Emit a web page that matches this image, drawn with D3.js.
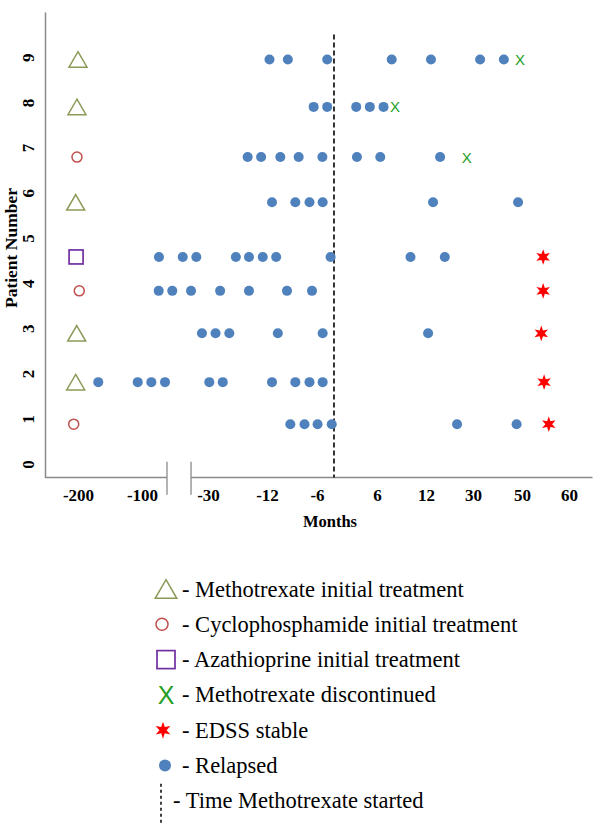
<!DOCTYPE html>
<html>
<head>
<meta charset="utf-8">
<script src="https://cdn.jsdelivr.net/npm/d3@7"></script>
<style>
  body { margin: 0; background: #fff; }
  text { font-family: "Liberation Serif", "Times New Roman", serif; }
</style>
</head>
<body>
<div id="chart"></div>
<script>
// =========================
// DATA
// =========================
const patients = [1, 2, 3, 4, 5, 6, 7, 8, 9];
// row height of each patient as plotted (slightly below the tick)
const patientRow = [0.88, 1.81, 2.89, 3.83, 4.58, 5.79, 6.79, 7.9, 8.95];

const initialTreatment = ["cyclo", "mtx", "mtx", "cyclo", "aza", "mtx", "cyclo", "mtx", "mtx"];
const initialMonth = [-206.7, -203.6, -202, -198, -203, -203.6, -201.6, -201.6, -200];

const relapses = [
    [-9.2, -7.5, -5.8, -0.8, 23.9, 47.8],
    [-168.3, -106.7, -90.1, -75.6, -29.6, -25.5, -11.4, -8.6, -6.9, -4.0],
    [-36.4, -27.7, -23.5, -10.7, -4.0, 12.8],
    [-82.3, -67.9, -48.0, -26.3, -17.5, -9.6, -6.6],
    [-82.0, -56.8, -42.4, -21.5, -17.5, -13.3, -10.9, -1.2, 10.1, 19.2],
    [-11.4, -8.6, -6.9, -4.0, 14.7, 48.4],
    [-17.9, -13.8, -10.4, -8.2, -4.1, 3.2, 6.4, 17.4],
    [-6.4, -2.4, 3.1, 5.0, 6.8],
    [-11.7, -9.5, -2.4, 7.8, 13.9, 32.9, 42.6]
];

const discontinuedPatient = [7, 8, 9];
const discontinuedMonth = [27.6, 8.2, 49.2];

const stablePatient = [1, 2, 3, 4, 5];
const stableMonth = [55.7, 54.7, 54.1, 54.5, 54.5];

const mtxStart = 0;

const xTicks = [-200, -100, -30, -12, -6, 6, 12, 30, 50, 60];
const yTicks = [0, 1, 2, 3, 4, 5, 6, 7, 8, 9];
const xExtent = [-251, 65];
const xBreak = [-73.5, -48];

const legendLabels = [
    "- Methotrexate initial treatment",
    "- Cyclophosphamide initial treatment",
    "- Azathioprine initial treatment",
    "- Methotrexate discontinued",
    "- EDSS stable",
    "- Relapsed",
    "- Time Methotrexate started"
];

// =========================
// STYLE
// =========================
const colMtx = "#8a9a58";
const colCyclo = "#c0504d";
const colAza = "#7030a0";
const colX = "#25a025";
const colStar = "#ff0000";
const colDot = "#4f81bd";
const colAxis = "#8a8a8a";

// =========================
// SVG
// =========================
const svg = d3.select("#chart")
    .append("svg")
    .attr("width", 600)
    .attr("height", 833);

// =========================
// SCALES (uneven, broken month axis)
// =========================
const x = d3.scaleLinear()
    .domain([-200, -100, -30, -12, -6, 0, 6, 12, 30, 50, 60])
    .range([78, 142, 208, 267, 317, 334, 377, 426, 473, 522, 569]);

const y = d3.scaleLinear()
    .domain([-0.3, 10])
    .range([477.5, 12]);

// =========================
// SYMBOLS
// =========================
function starPath(R, r) {
    const p = d3.path();
    for (let k = 0; k < 12; k++) {
        const a = -Math.PI / 2 + k * Math.PI / 6;
        const rad = k % 2 === 0 ? R : r;
        const px = rad * Math.cos(a), py = rad * Math.sin(a);
        if (k === 0) p.moveTo(px, py); else p.lineTo(px, py);
    }
    p.closePath();
    return p.toString();
}

function drawSymbol(g, type, big) {
    const s = big ? 1.2 : 1;
    if (type === "mtx") {
        const w = 18 * s, h = 15.5 * s;
        g.append("path")
            .attr("d", `M0,${-h / 2}L${w / 2},${h / 2}L${-w / 2},${h / 2}Z`)
            .attr("fill", "none").attr("stroke", colMtx).attr("stroke-width", 1.5);
    } else if (type === "cyclo") {
        g.append("circle").attr("r", 5 * s)
            .attr("fill", "none").attr("stroke", colCyclo).attr("stroke-width", 1.5);
    } else if (type === "aza") {
        const a = (big ? 18 : 14);
        g.append("rect").attr("x", -a / 2).attr("y", -a / 2)
            .attr("width", a).attr("height", a)
            .attr("fill", "none").attr("stroke", colAza).attr("stroke-width", 1.7);
    } else if (type === "x") {
        g.append("text").text("X")
            .attr("text-anchor", "middle").attr("dominant-baseline", "central")
            .style("font-family", "'Liberation Sans', Arial, sans-serif")
            .style("font-size", big ? "25px" : "15px")
            .attr("fill", colX);
    } else if (type === "star") {
        g.append("path").attr("d", big ? starPath(8.5, 3.6) : starPath(7.8, 3.4))
            .attr("fill", colStar);
    } else if (type === "dot") {
        g.append("circle").attr("r", big ? 6 : 5).attr("fill", colDot);
    }
}

// =========================
// AXES
// =========================
const yAxis = svg.append("g")
    .attr("transform", `translate(45,0)`)
    .call(d3.axisLeft(y).tickValues(yTicks).tickSize(0).tickSizeOuter(0));

yAxis.select(".domain").attr("stroke", colAxis).attr("stroke-width", 1.5);
yAxis.selectAll("text")
    .attr("x", null).attr("dy", null)
    .attr("transform", "translate(-17,0) rotate(-90)")
    .attr("text-anchor", "middle")
    .attr("dominant-baseline", "central")
    .style("font-family", "'Liberation Serif', 'Times New Roman', serif")
    .style("font-weight", "bold")
    .style("font-size", "17px")
    .attr("fill", "#000");

const xAxis = svg.append("g")
    .attr("transform", `translate(0,${y(-0.3)})`)
    .call(d3.axisBottom(x).tickValues(xTicks).tickSize(0).tickPadding(11).tickFormat(d => String(d)));

xAxis.select(".domain").remove();
xAxis.selectAll("text")
    .style("font-family", "'Liberation Serif', 'Times New Roman', serif")
    .style("font-weight", "bold")
    .style("font-size", "17px")
    .attr("fill", "#000");

// axis line with break
[[xExtent[0], xBreak[0]], [xBreak[1], xExtent[1]]].forEach(seg => {
    svg.append("line")
        .attr("x1", x(seg[0])).attr("x2", x(seg[1]))
        .attr("y1", y(-0.3)).attr("y2", y(-0.3))
        .attr("stroke", colAxis).attr("stroke-width", 1.5);
});
xBreak.forEach(b => {
    svg.append("line")
        .attr("x1", x(b)).attr("x2", x(b))
        .attr("y1", y(0.05)).attr("y2", y(-0.68))
        .attr("stroke", colAxis).attr("stroke-width", 1.3);
});

// axis titles
svg.append("text")
    .attr("transform", "translate(11,248) rotate(-90)")
    .attr("text-anchor", "middle")
    .attr("dominant-baseline", "central")
    .style("font-weight", "bold")
    .style("font-size", "17.5px")
    .text("Patient Number");

svg.append("text")
    .attr("x", 330).attr("y", 521)
    .attr("text-anchor", "middle")
    .attr("dominant-baseline", "central")
    .style("font-weight", "bold")
    .style("font-size", "16.5px")
    .text("Months");

// =========================
// METHOTREXATE START LINE
// =========================
svg.append("line")
    .attr("x1", x(mtxStart)).attr("x2", x(mtxStart))
    .attr("y1", y(9.5)).attr("y2", y(-0.3))
    .attr("stroke", "#000").attr("stroke-width", 1.6)
    .attr("stroke-dasharray", "5,3");

// =========================
// MARKS
// =========================
const relapseData = [];
patients.forEach((p, i) => {
    relapses[i].forEach(m => relapseData.push({ month: m, row: patientRow[i] }));
});

svg.selectAll("circle.relapse")
    .data(relapseData)
    .enter()
    .append("circle")
    .attr("class", "relapse")
    .attr("cx", d => x(d.month))
    .attr("cy", d => y(d.row))
    .attr("r", 5)
    .attr("fill", colDot);

patients.forEach((p, i) => {
    const g = svg.append("g")
        .attr("transform", `translate(${x(initialMonth[i])},${y(patientRow[i])})`);
    drawSymbol(g, initialTreatment[i], false);
});

discontinuedPatient.forEach((p, i) => {
    const g = svg.append("g")
        .attr("transform", `translate(${x(discontinuedMonth[i])},${y(patientRow[p - 1])})`);
    drawSymbol(g, "x", false);
});

stablePatient.forEach((p, i) => {
    const g = svg.append("g")
        .attr("transform", `translate(${x(stableMonth[i])},${y(patientRow[p - 1])})`);
    drawSymbol(g, "star", false);
});

// =========================
// LEGEND
// =========================
const legendTypes = ["mtx", "cyclo", "aza", "x", "star", "dot", "line"];
const legendSymX = [166, 162, 166, 166, 163, 165, 161];

const legend = svg.append("g");
legendLabels.forEach((lab, i) => {
    const ly = 589 + i * 35.3;
    const g = legend.append("g").attr("transform", `translate(${legendSymX[i]},${ly})`);
    if (legendTypes[i] === "line") {
        g.append("line").attr("x1", 0).attr("x2", 0).attr("y1", -17).attr("y2", 22)
            .attr("stroke", "#000").attr("stroke-width", 1.5).attr("stroke-dasharray", "3,3");
    } else {
        drawSymbol(g, legendTypes[i], true);
    }
    legend.append("text")
        .attr("x", i === 6 ? 173 : 182)
        .attr("y", ly)
        .attr("dominant-baseline", "central")
        .style("font-size", "22.5px")
        .text(lab);
});
</script>
</body>
</html>
